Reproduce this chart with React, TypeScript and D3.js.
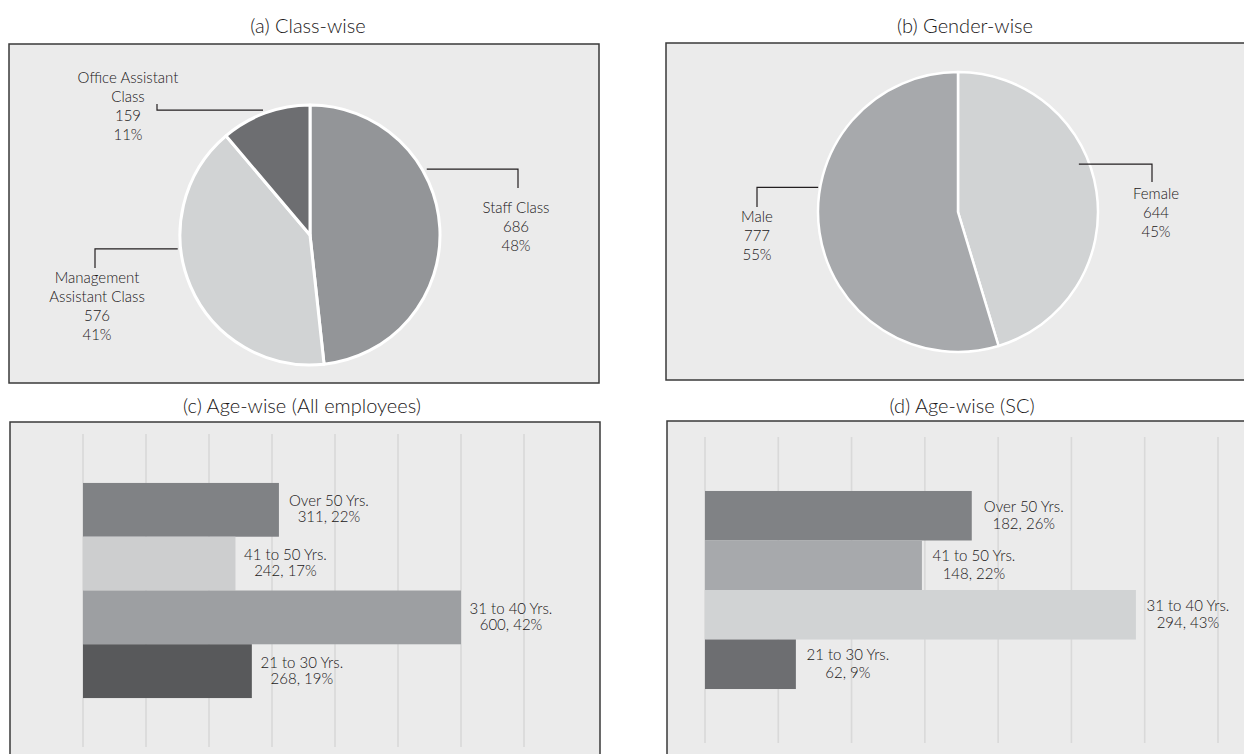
import React from 'react';
import * as d3 from 'd3';

// ---------- DATA ----------
const classLines = [['Staff Class'], ['Management', 'Assistant Class'], ['Office Assistant', 'Class']];
const classValues = [686, 576, 159];
const classPct = ['48%', '41%', '11%'];
const classColors = ['#939598', '#d1d3d4', '#6d6e71'];

const genderLines = [['Female'], ['Male']];
const genderValues = [644, 777];
const genderPct = ['45%', '55%'];
const genderColors = ['#d1d3d4', '#a7a9ac'];

const ageCategories = ['Over 50 Yrs.', '41 to 50 Yrs.', '31 to 40 Yrs.', '21 to 30 Yrs.'];
const ageAllValues = [311, 242, 600, 268];
const ageAllPct = ['22%', '17%', '42%', '19%'];
const ageAllColors = ['#808285', '#cdcecf', '#9d9fa2', '#58595b'];
const ageAllTicks = [0, 100, 200, 300, 400, 500, 600, 700];

const ageScValues = [182, 148, 294, 62];
const ageScPct = ['26%', '22%', '43%', '9%'];
const ageScColors = ['#808285', '#a7a9ac', '#d1d3d4', '#6d6e71'];
const ageScTicks = [0, 50, 100, 150, 200, 250, 300, 350];

// ---------- STYLE ----------
const FONT = 'Lato, "Open Sans", sans-serif';
const WEIGHT = 300;
const TEXT = '#1a1718';
const BG = '#ebebeb';
const BORDER = '#3a3a3a';

type Callout = { angle: number; r: number; elbowX: number; dropY: number; textX: number; textY: number };

function polar(cx: number, cy: number, r: number, deg: number) {
  const a = (deg * Math.PI) / 180;
  return [cx + r * Math.sin(a), cy - r * Math.cos(a)];
}

function PiePanel(props: {
  cx: number; cy: number; r: number; values: number[]; colors: string[];
  lines: string[][]; pct: string[]; callouts: Callout[]; strokeW: number;
}) {
  const { cx, cy, r, values, colors, lines, pct, callouts, strokeW } = props;
  const arcs = d3.pie<number>().sort(null).value((d) => d)(values);
  const arcGen = d3.arc<d3.PieArcDatum<number>>().innerRadius(0).outerRadius(r);
  return (
    <g>
      <g transform={`translate(${cx},${cy})`}>
        {arcs.map((a, i) => (
          <path key={i} d={arcGen(a) || ''} fill={colors[i]} stroke="#ffffff" strokeWidth={strokeW} strokeLinejoin="round" />
        ))}
      </g>
      {callouts.map((c, i) => {
        const [px, py] = polar(cx, cy, c.r, c.angle);
        const textLines = [...lines[i], String(values[i]), pct[i]];
        return (
          <g key={i}>
            <polyline points={`${px},${py} ${c.elbowX},${py} ${c.elbowX},${c.dropY}`} fill="none" stroke="#231f20" strokeWidth={1.2} />
            <text x={c.textX} y={c.textY} textAnchor="middle" fontFamily={FONT} fontWeight={WEIGHT} fontSize={15} fill={TEXT}>
              {textLines.map((t, k) => (
                <tspan key={k} x={c.textX} dy={k === 0 ? 0 : 19}>{t}</tspan>
              ))}
            </text>
          </g>
        );
      })}
    </g>
  );
}

function BarPanel(props: {
  x0: number; x1: number; max: number; ticks: number[]; y0: number; y1: number; padOuter: number;
  values: number[]; pct: string[]; colors: string[]; labelDx: number; l1: number; l2: number;
}) {
  const { x0, x1, max, ticks, y0, y1, padOuter, values, pct, colors, labelDx, l1, l2 } = props;
  const x = d3.scaleLinear().domain([0, max]).range([x0, x1]);
  const y = d3.scaleBand<string>().domain(ageCategories).range([y0, y1]).paddingInner(0).paddingOuter(padOuter);
  return (
    <g>
      {ticks.map((t) => (
        <line key={t} x1={x(t)} x2={x(t)} y1={y0} y2={y1} stroke="#d9d9d9" strokeWidth={1.6} />
      ))}
      {ageCategories.map((c, i) => {
        const by = y(c) as number;
        const bh = y.bandwidth();
        const cyy = by + bh / 2;
        const lx = x(values[i]) + labelDx;
        return (
          <g key={c}>
            <rect x={x(0)} y={by} width={x(values[i]) - x(0)} height={bh} fill={colors[i]} />
            <text textAnchor="middle" fontFamily={FONT} fontWeight={WEIGHT} fontSize={15} fill={TEXT}>
              <tspan x={lx} y={cyy + l1}>{c}</tspan>
              <tspan x={lx} y={cyy + l2}>{`${values[i]}, ${pct[i]}`}</tspan>
            </text>
          </g>
        );
      })}
    </g>
  );
}

export default function App() {
  return (
    <svg width={1244} height={754} style={{ position: 'absolute', left: 0, top: 0, background: '#ffffff' }}>
      {/* boxes */}
      <rect x={9} y={44} width={590} height={339} fill={BG} stroke={BORDER} strokeWidth={1.5} />
      <rect x={666} y={43} width={600} height={337} fill={BG} stroke={BORDER} strokeWidth={1.5} />
      <rect x={10} y={422} width={590} height={360} fill={BG} stroke={BORDER} strokeWidth={1.5} />
      <rect x={667} y={421} width={600} height={360} fill={BG} stroke={BORDER} strokeWidth={1.5} />

      {/* titles */}
      <text x={308} y={33} textAnchor="middle" fontFamily={FONT} fontWeight={WEIGHT} fontSize={20} fill={TEXT}>(a) Class-wise</text>
      <text x={965} y={33} textAnchor="middle" fontFamily={FONT} fontWeight={WEIGHT} fontSize={20} fill={TEXT}>(b) Gender-wise</text>
      <text x={302} y={413} textAnchor="middle" fontFamily={FONT} fontWeight={WEIGHT} fontSize={20} fill={TEXT}>(c) Age-wise (All employees)</text>
      <text x={962} y={413} textAnchor="middle" fontFamily={FONT} fontWeight={WEIGHT} fontSize={20} fill={TEXT}>(d) Age-wise (SC)</text>

      <PiePanel
        cx={310} cy={235} r={130} values={classValues} colors={classColors} lines={classLines} pct={classPct} strokeW={3}
        callouts={[
          { angle: 60.6, r: 134, elbowX: 518, dropY: 188, textX: 516, textY: 213 },
          { angle: 264, r: 133, elbowX: 95, dropY: 268, textX: 97, textY: 283 },
          { angle: 339.4, r: 133.5, elbowX: 157, dropY: 104, textX: 128, textY: 83 },
        ]}
      />
      <PiePanel
        cx={958} cy={212} r={140} values={genderValues} colors={genderColors} lines={genderLines} pct={genderPct} strokeW={2.5}
        callouts={[
          { angle: 68.4, r: 130, elbowX: 1152, dropY: 182, textX: 1156, textY: 199 },
          { angle: 280, r: 142, elbowX: 757, dropY: 207, textX: 757, textY: 222 },
        ]}
      />

      <BarPanel x0={83} x1={524} max={700} ticks={ageAllTicks} y0={434} y1={747} padOuter={0.91}
        values={ageAllValues} pct={ageAllPct} colors={ageAllColors} labelDx={50} l1={-3.5} l2={12.5} />
      <BarPanel x0={705} x1={1218} max={350} ticks={ageScTicks} y0={437} y1={743} padOuter={1.09}
        values={ageScValues} pct={ageScPct} colors={ageScColors} labelDx={52} l1={-4} l2={13.5} />
    </svg>
  );
}
